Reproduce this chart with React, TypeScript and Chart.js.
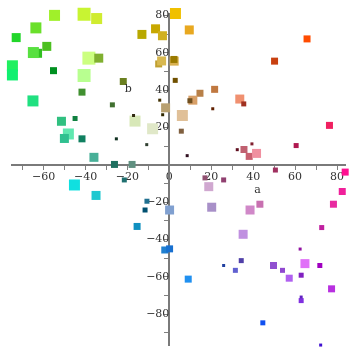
import React, { useEffect, useRef } from "react";
import { Chart, registerables } from "chart.js";

Chart.register(...registerables);

// ---- data ----
const xValues = [
  -73.1, -63.7, -54.8, -40.7, -34.7, -58.5, -62.9, -64.9, -74.9, -74.9,
  -55.3, -38.4, -33.7, -40.7, -22.0, -41.7, -65.1, -27.2, -51.5, -45.0,
  -48.2, -50.1, -41.7, -16.4, -17.1, -8.0, -25.3, -10.8, -36.0, -26.2,
  -17.8, 2.9, -13.1, -6.6, -3.3, 9.5, -5.1, -3.7, 2.3, 2.2,
  2.8, 14.6, 21.6, 11.2, 9.8, -1.8, -4.6, -3.2, 6.2, 5.7,
  8.5, 20.7, 33.6, 35.5, 32.4, 35.6, 38.1, 41.6, 39.4, 60.5,
  76.4, 50.6, 83.9, 82.5, 78.3, 38.5, 43.2, 17.0, 25.9, 18.8,
  20.2, 72.7, 35.2, 62.4, 34.3, 25.9, 31.5, 49.7, 54.0, 57.2,
  64.7, 71.8, 62.9, 77.4, 62.9, 62.9, 44.6, 9.0, 72.2, -35.0,
  -21.5, -10.7, -11.6, 0.1, -15.4, -2.2, 0.1, -45.3, 65.7, 50.2,
];
const yValues = [
  68.1, 73.3, 80.0, 80.6, 78.3, 63.4, 59.7, 60.1, 53.0, 48.1,
  50.4, 57.1, 57.1, 47.8, 44.6, 38.9, 34.2, 32.1, 23.3, 24.8,
  16.5, 14.1, 13.9, 23.4, 26.4, 19.3, 13.9, 10.8, 4.0, 0.2,
  0.2, 81.0, 69.8, 72.8, 69.1, 72.2, 54.0, 55.6, 55.5, 56.4,
  45.2, 38.3, 40.4, 34.6, 34.3, 30.5, 34.6, 26.8, 26.4, 18.0,
  4.9, 30.0, 35.2, 32.6, 8.1, 8.2, 4.5, 6.1, 11.2, 10.3,
  21.1, -2.8, -3.9, -14.3, -21.1, -24.2, -21.1, -7.0, -8.1, -11.7,
  -22.7, -33.6, -37.2, -45.1, -51.3, -53.9, -56.5, -53.9, -56.5, -60.7,
  -52.9, -53.9, -59.1, -66.4, -72.7, -70.8, -84.6, -61.2, -96.5, -16.4,
  -8.1, -19.5, -24.2, -24.2, -33.0, -45.6, -45.0, -10.8, 67.4, 55.5,
];
const markerSize = [
  9, 11, 11, 13, 11, 9, 9, 11, 11, 11,
  7, 13, 9, 13, 7, 7, 11, 5, 9, 5,
  11, 9, 7, 11, 3, 11, 3, 3, 9, 7,
  7, 11, 9, 9, 9, 9, 7, 9, 9, 7,
  5, 7, 7, 9, 5, 9, 3, 3, 11, 5,
  3, 3, 9, 5, 3, 7, 7, 9, 3, 5,
  7, 5, 7, 7, 7, 9, 7, 5, 5, 9,
  9, 5, 9, 3, 5, 3, 5, 7, 5, 7,
  9, 5, 5, 7, 5, 3, 5, 7, 3, 9,
  5, 5, 5, 9, 7, 7, 7, 11, 7, 7,
];
const markerColor = [
  "#22d62a", "#6ae02a", "#a0f02a", "#c8f432", "#d0ec30", "#4cc020", "#30c020", "#58e040", "#20f060", "#10f070",
  "#009020", "#ccff80", "#80b030", "#b8ff90", "#6b8020", "#409030", "#20e080", "#407030", "#30c080", "#108040",
  "#60e8b0", "#30c090", "#108060", "#d8e8b8", "#302810", "#e0e8c8", "#103020", "#304030", "#48b098", "#207060",
  "#609080", "#f0c000", "#b8a800", "#c8a800", "#d0b020", "#e8a820", "#c0a030", "#d8b850", "#d8b050", "#9a7a00",
  "#705000", "#b88048", "#c07840", "#d8a068", "#705020", "#b8a070", "#403000", "#302800", "#e0c098", "#806040",
  "#301020", "#602000", "#f09070", "#a03020", "#601020", "#c06070", "#c86070", "#f090a0", "#802030", "#b01850",
  "#f02060", "#a03060", "#ff1090", "#f0209a", "#e82aa0", "#d088c8", "#c870b0", "#905070", "#904070", "#d0a8d0",
  "#a890c8", "#c020a0", "#c090e0", "#9010a0", "#5040a8", "#2040a0", "#6060d0", "#9050d0", "#9048d0", "#b060f0",
  "#e070f8", "#a000c0", "#8020c0", "#b830e0", "#8030e0", "#6020c0", "#1050f0", "#2090f0", "#4010d0", "#20c8d0",
  "#207070", "#207090", "#005070", "#80a0d0", "#1090c0", "#2080d0", "#1870d0", "#10e0e0", "#ff4c00", "#c84010",
];
const xTickValues = [-70, -60, -50, -40, -30, -20, -10, 0, 10, 20, 30, 40, 50, 60, 70, 80];
const yTickValues = [-90, -80, -70, -60, -50, -40, -30, -20, -10, 0, 10, 20, 30, 40, 50, 60, 70, 80];
const xRange = [-75.1, 84.2];
const yRange = [-96.9, 81.0];
const xTitle = "a";
const yTitle = "b";

const fmt = (v: number) => (v < 0 ? "\u2212" + Math.abs(v) : String(v));

const axisTitles = {
  id: "axisTitles",
  afterDraw(chart: any) {
    const { ctx, scales } = chart;
    const xs = scales.x;
    const ys = scales.y;
    const x0 = xs.getPixelForValue(0);
    const y0 = ys.getPixelForValue(0);
    ctx.save();
    ctx.font = "11px 'DejaVu Serif'";
    ctx.fillStyle = "#333";
    ctx.textAlign = "center";
    ctx.textBaseline = "middle";
    ctx.fillText(xTitle, xs.getPixelForValue(xRange[1] / 2), y0 + 25);
    ctx.fillText(yTitle, x0 - 41, ys.getPixelForValue(yRange[1] / 2));
    ctx.restore();
  },
};

export default function App() {
  const ref = useRef<HTMLCanvasElement>(null);
  useEffect(() => {
    if (!ref.current) return;
    const tickFont = { family: "'DejaVu Serif'", size: 11 };
    const chart = new Chart(ref.current, {
      type: "scatter",
      data: {
        datasets: [
          {
            data: xValues.map((x, i) => ({ x, y: yValues[i] })),
            pointStyle: "rect",
            pointRadius: markerSize.map((s) => s / Math.SQRT2),
            pointHoverRadius: markerSize.map((s) => s / Math.SQRT2),
            backgroundColor: markerColor,
            borderWidth: 0,
            clip: false,
          } as any,
        ],
      },
      options: {
        animation: false,
        responsive: false,
        maintainAspectRatio: false,
        events: [],
        layout: { padding: { left: 12, right: 3, top: 13.5, bottom: 0 } },
        plugins: { legend: { display: false }, tooltip: { enabled: false } },
        scales: {
          x: {
            type: "linear",
            min: xRange[0],
            max: xRange[1],
            position: { y: 0 } as any,
            afterFit: (s: any) => {
              s.height = 0;
            },
            afterBuildTicks: (s: any) => {
              s.ticks = xTickValues.map((value) => ({ value }));
            },
            grid: { drawOnChartArea: false, drawTicks: true, tickLength: 4, color: "#808080", lineWidth: 1 },
            border: { display: true, color: "#7a7a7a", width: 2 },
            ticks: {
              autoSkip: false,
              maxRotation: 0,
              padding: 2,
              color: "#333",
              font: tickFont,
              callback: (v: any) => (Number(v) % 20 === 0 ? fmt(Number(v)) : ""),
            },
          },
          y: {
            type: "linear",
            min: yRange[0],
            max: yRange[1],
            position: { x: 0 } as any,
            afterFit: (s: any) => {
              s.width = 0;
            },
            afterBuildTicks: (s: any) => {
              s.ticks = yTickValues.map((value) => ({ value }));
            },
            grid: { drawOnChartArea: false, drawTicks: true, tickLength: 4, color: "#808080", lineWidth: 1 },
            border: { display: true, color: "#7a7a7a", width: 2 },
            ticks: {
              autoSkip: false,
              padding: 2,
              color: "#333",
              font: tickFont,
              callback: (v: any) => (Number(v) % 20 === 0 && Number(v) !== 0 ? fmt(Number(v)) : ""),
            },
          },
        },
      } as any,
      plugins: [axisTitles],
    });
    return () => chart.destroy();
  }, []);
  return (
    <div style={{ position: "absolute", left: 0, top: 0, width: 355, height: 355 }}>
      <canvas ref={ref} width={355} height={355} style={{ width: 355, height: 355 }} />
    </div>
  );
}
